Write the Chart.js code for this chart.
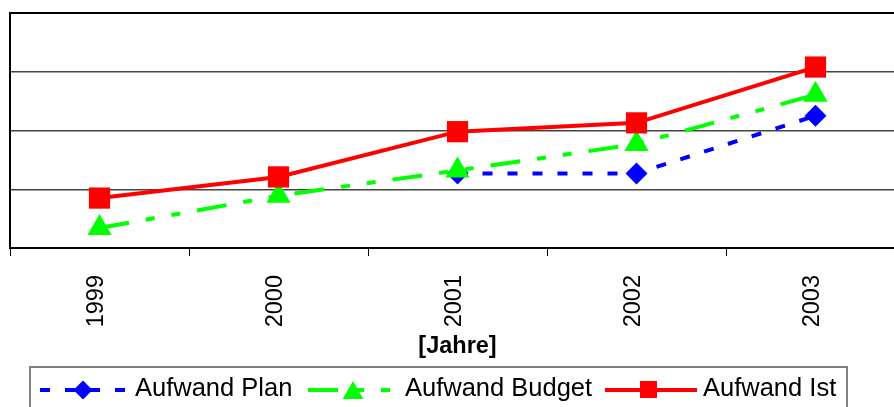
<!DOCTYPE html>
<html><head><meta charset="utf-8">
<script src="https://cdn.jsdelivr.net/npm/chart.js@4.4.1/dist/chart.umd.min.js"></script>
<style>
html,body{margin:0;padding:0;background:#fff;overflow:hidden;}
#wrap{width:894px;height:407px;overflow:hidden;position:relative;background:#fff;}
canvas{display:block;}
</style></head><body>
<div id="wrap"><canvas id="c" width="905" height="407"></canvas></div>
<script>
// ---- data (arbitrary units, y axis has no labels) ----
const years = ['1999', '2000', '2001', '2002', '2003'];
const aufwandPlan = [null, null, 127, 127, 225];
const aufwandBudget = [34, 89, 132, 177, 261];
const aufwandIst = [85, 121, 198, 213, 308];
const seriesNames = ['Aufwand Plan', 'Aufwand Budget', 'Aufwand Ist'];
const yTicks = [0, 100, 200, 300, 400];
const xTitle = '[Jahre]';

const FONT = "'Liberation Sans', Arial, sans-serif";
const BLUE = '#0000ff', GREEN = '#00ff00', RED = '#ff0000';
const DASH_PLAN = [10, 15];
const DASH_BUDGET = [30, 17, 9, 17, 9, 17];

function marker(c, style, x, y, r, color) {
  c.save();
  c.fillStyle = color;
  c.beginPath();
  if (style === 'rectRot') {
    c.moveTo(x - r, y); c.lineTo(x, y - r); c.lineTo(x + r, y); c.lineTo(x, y + r);
  } else if (style === 'triangle') {
    for (let i = 0; i < 3; i++) {
      const a = i * 2 * Math.PI / 3;
      const px = x + Math.sin(a) * r, py = y - Math.cos(a) * r;
      if (i === 0) c.moveTo(px, py); else c.lineTo(px, py);
    }
  } else {
    c.rect(x - r, y - r, 2 * r, 2 * r);
  }
  c.closePath();
  c.fill();
  c.restore();
}

const legendPlugin = {
  id: 'excelLegend',
  afterDraw(chart) {
    const c = chart.ctx;
    c.save();
    c.strokeStyle = '#808080';
    c.lineWidth = 2;
    c.strokeRect(30, 367, 817, 80);
    const items = [
      {name: seriesNames[0], color: BLUE, dash: DASH_PLAN, x0: 40, x1: 126, mx: 83, my: 390, style: 'rectRot', r: 9.5, tx: 135},
      {name: seriesNames[1], color: GREEN, dash: DASH_BUDGET, x0: 308, x1: 390, mx: 353, my: 393, style: 'triangle', r: 12, tx: 405},
      {name: seriesNames[2], color: RED, dash: [], x0: 605, x1: 697, mx: 648.5, my: 389.5, style: 'rect', r: 8.5, tx: 703}
    ];
    items.forEach(it => {
      c.save();
      c.strokeStyle = it.color;
      c.lineWidth = 4;
      c.setLineDash(it.dash);
      c.beginPath();
      c.moveTo(it.x0, 390); c.lineTo(it.x1, 390);
      c.stroke();
      c.restore();
      marker(c, it.style, it.mx, it.my, it.r, it.color);
      c.fillStyle = '#000';
      c.font = '25.5px ' + FONT;
      c.textBaseline = 'alphabetic';
      c.textAlign = 'left';
      c.fillText(it.name, it.tx, 396);
    });
    c.restore();
  }
};

new Chart(document.getElementById('c'), {
  type: 'line',
  data: {
    labels: years,
    datasets: [
      {label: seriesNames[0], data: aufwandPlan, borderColor: BLUE, backgroundColor: BLUE,
       borderWidth: 4, borderDash: DASH_PLAN, pointStyle: 'rectRot', pointRadius: 11,
       pointBorderWidth: 0, pointBackgroundColor: BLUE, fill: false, tension: 0, order: 3},
      {label: seriesNames[1], data: aufwandBudget, borderColor: GREEN, backgroundColor: GREEN,
       borderWidth: 4, borderDash: DASH_BUDGET, pointStyle: 'triangle', pointRadius: 14,
       pointBorderWidth: 0, pointBackgroundColor: GREEN, fill: false, tension: 0, order: 2},
      {label: seriesNames[2], data: aufwandIst, borderColor: RED, backgroundColor: RED,
       borderWidth: 4, pointStyle: 'rect', pointRadius: 15,
       pointBorderWidth: 0, pointBackgroundColor: RED, fill: false, tension: 0, order: 1}
    ]
  },
  options: {
    responsive: false,
    animation: false,
    devicePixelRatio: 1,
    layout: {autoPadding: false, padding: {top: 13, left: 0, right: 0, bottom: 0}},
    plugins: {legend: {display: false}, tooltip: {enabled: false}},
    scales: {
      x: {
        offset: true,
        grid: {offset: true, drawOnChartArea: false, drawTicks: true, tickLength: 8, color: '#000', lineWidth: 1},
        border: {display: true, color: '#000', width: 2},
        ticks: {maxRotation: 90, minRotation: 90, padding: 19, labelOffset: -3, autoSkip: false,
                color: '#000', font: {family: FONT, size: 23.5}},
        title: {display: true, text: xTitle, color: '#000',
                font: {family: FONT, size: 23.5, weight: 'bold'}, padding: {top: 0, bottom: 46}},
        afterFit(s) { s.height = 159; s.paddingLeft = 0; s.paddingRight = 0; }
      },
      y: {
        min: yTicks[0], max: yTicks[yTicks.length - 1],
        afterBuildTicks(s) { s.ticks = yTicks.map(v => ({value: v})); },
        ticks: {display: false},
        grid: {
          drawTicks: false,
          color: c => (c.tick && c.tick.value === yTicks[yTicks.length - 1]) ? '#000' : '#444',
          lineWidth: c => (c.tick && c.tick.value === yTicks[yTicks.length - 1]) ? 2 : 1.5
        },
        border: {display: true, color: '#000', width: 2},
        afterFit(s) { s.width = 10; s.paddingTop = 0; s.paddingBottom = 0; }
      }
    }
  },
  plugins: [legendPlugin]
});
</script>
</body></html>
